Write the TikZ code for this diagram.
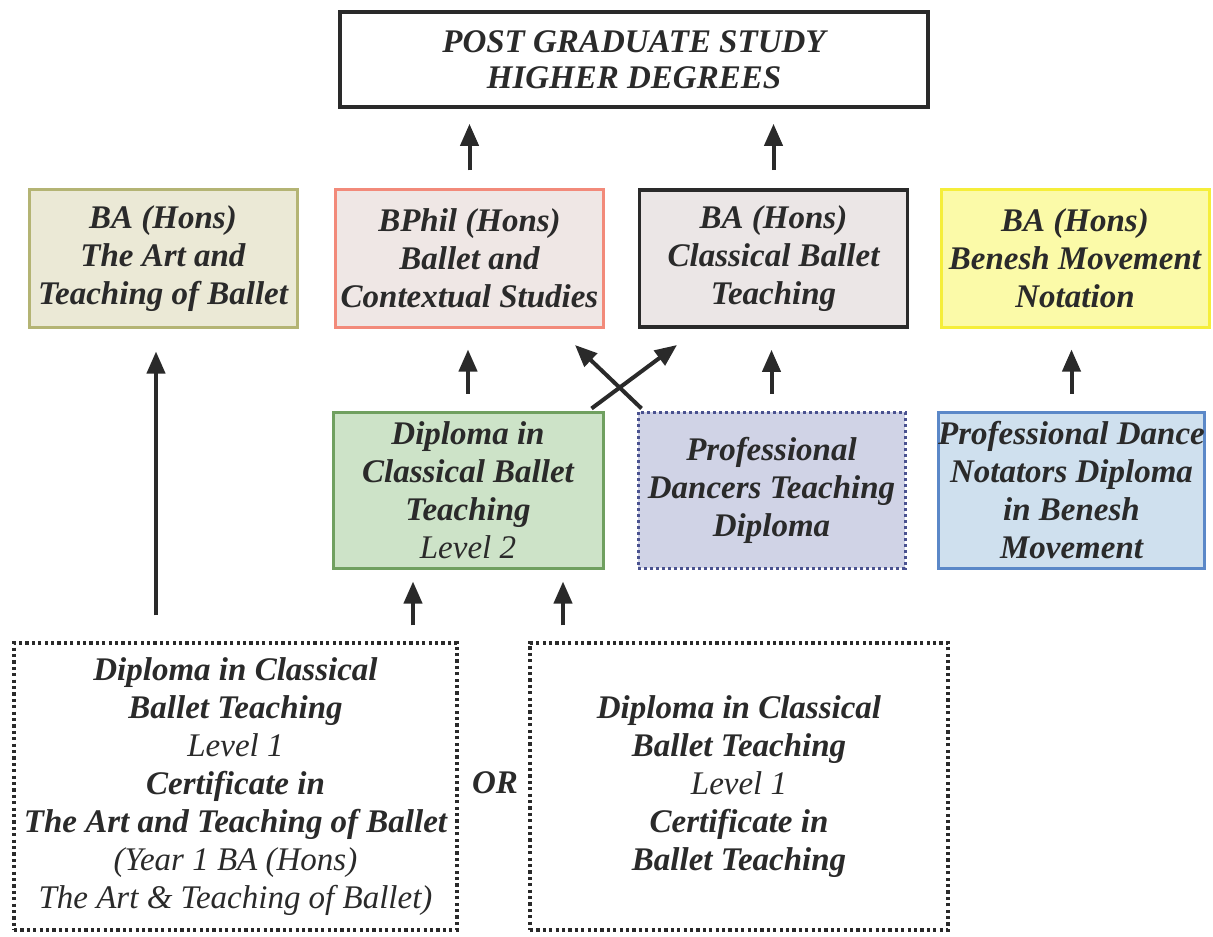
\documentclass[tikz,border=0pt]{standalone}
\usepackage{fontspec}
\setmainfont{Liberation Serif}
\usetikzlibrary{arrows.meta,calc}
\definecolor{olivebd}{HTML}{B4B474}
\definecolor{olivefl}{HTML}{EBE9D6}
\definecolor{salmonbd}{HTML}{F28A7A}
\definecolor{salmonfl}{HTML}{EFE7E5}
\definecolor{greyfl}{HTML}{EBE6E6}
\definecolor{yellowbd}{HTML}{F5EE3A}
\definecolor{yellowfl}{HTML}{FBFAA8}
\definecolor{greenbd}{HTML}{70A060}
\definecolor{greenfl}{HTML}{CDE3C8}
\definecolor{navybd}{HTML}{4A5290}
\definecolor{navyfl}{HTML}{D0D3E6}
\definecolor{bluebd}{HTML}{5B88C8}
\definecolor{bluefl}{HTML}{CFE0EE}
\definecolor{ink}{HTML}{2A2A2A}
\newcommand\lvltxt[1]{{\mdseries #1}}
\tikzset{
  box/.style={rectangle, inner sep=0pt, align=center, text=ink,
    font=\fontsize{16.5}{19}\selectfont\bfseries\itshape, line width=1.5pt},
  wbox/.style={box, minimum width=134pt, minimum height=68.5pt},
  mbox/.style={box, minimum height=78pt},
  dotbox/.style={box, draw=ink, line width=1.6pt, dash pattern=on 1.6pt off 1.6pt, fill=white},
  arr/.style={draw=ink, line width=2pt, -{Triangle[length=11pt,width=9pt]}}
}
\begin{document}
\begin{tikzpicture}[x=0.5pt,y=-0.5pt]
\useasboundingbox (0,0) rectangle (1213,936);
% top
\node[box, draw=ink, line width=1.8pt, minimum width=294pt, minimum height=47.5pt,
  font=\fontsize{16.5}{18}\selectfont\bfseries\itshape] (top) at (634,59.5)
  {POST GRADUATE STUDY\\HIGHER DEGREES};
% degree row
\node[wbox, draw=olivebd, fill=olivefl] (baart) at (163,258.5)
  {BA (Hons)\\The Art and\\Teaching of Ballet};
\node[wbox, draw=salmonbd, fill=salmonfl] (bphil) at (469.5,258.5)
  {BPhil (Hons)\\Ballet and\\Contextual Studies};
\node[wbox, draw=ink, line width=1.8pt, fill=greyfl] (bacl) at (773.5,258.5)
  {BA (Hons)\\Classical Ballet\\Teaching};
\node[wbox, draw=yellowbd, fill=yellowfl] (bab) at (1075,258.5)
  {BA (Hons)\\Benesh Movement\\Notation};
% diploma row
\node[mbox, minimum width=135pt, draw=greenbd, fill=greenfl] (dip) at (468,490)
  {Diploma in\\Classical Ballet\\Teaching\\\lvltxt{Level 2}};
\node[mbox, minimum width=133.5pt, draw=navybd, dash pattern=on 1.5pt off 1.5pt, fill=navyfl] (pdt) at (771.5,490)
  {Professional\\Dancers Teaching\\Diploma};
\node[mbox, minimum width=131.5pt, draw=bluebd, fill=bluefl] (pdn) at (1071.5,490)
  {Professional Dance\\Notators Diploma\\in Benesh\\Movement};
% bottom row
\node[dotbox, minimum width=221.5pt, minimum height=143.5pt] (bl) at (235.5,786.5)
  {Diploma in Classical\\Ballet Teaching\\\lvltxt{Level 1}\\Certificate in\\The Art and Teaching of Ballet\\\lvltxt{(Year 1 BA (Hons)}\\\lvltxt{The Art \& Teaching of Ballet)}};
\node[dotbox, minimum width=209pt, minimum height=143.5pt] (br) at (739,786.5)
  {Diploma in Classical\\Ballet Teaching\\\lvltxt{Level 1}\\Certificate in\\Ballet Teaching};
\node[box] (or) at (495,783) {OR};
% arrows
\draw[arr, shorten <=9pt, shorten >=7.5pt] (bphil.north) -- (bphil.north |- top.south);
\draw[arr, shorten <=9pt, shorten >=7.5pt] (bacl.north) -- (bacl.north |- top.south);
\draw[arr, shorten <=8.5pt, shorten >=10.5pt] (dip.north) -- (dip.north |- bphil.south);
\draw[arr, shorten <=8.5pt, shorten >=10.5pt] (pdt.north) -- (pdt.north |- bacl.south);
\draw[arr, shorten <=8.5pt, shorten >=10.5pt] (pdn.north) -- (pdn.north |- bab.south);
\coordinate (xa) at ($(dip.north east)+(-13,-2)$);
\coordinate (xb) at ($(pdt.north west)+(5,-2)$);
\coordinate (ta) at (677,345);
\coordinate (tb) at (575,345);
\draw[arr] (xa) -- (ta);
\draw[arr] (xb) -- (tb);
\draw[arr, shorten <=13pt, shorten >=11.5pt] ([xshift=-3.5pt]baart.south |- bl.north) -- ([xshift=-3.5pt]baart.south);
\draw[arr, shorten <=8pt, shorten >=6pt] ([xshift=-27.5pt]dip.south |- bl.north) -- ([xshift=-27.5pt]dip.south);
\draw[arr, shorten <=8pt, shorten >=6pt] ([xshift=47.5pt]dip.south |- br.north) -- ([xshift=47.5pt]dip.south);
\end{tikzpicture}
\end{document}
